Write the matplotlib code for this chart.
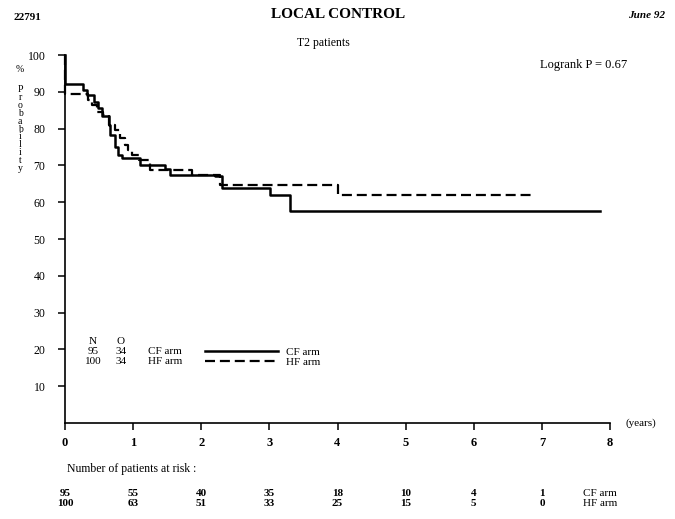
import numpy as np
import matplotlib.pyplot as plt
import matplotlib.transforms as mtransforms

plt.rcParams['font.family'] = ['Liberation Serif', 'DejaVu Serif']

# Kaplan-Meier step curves (years, % probability)
cf_t = [0, 0, 0.27, 0.32, 0.42, 0.49, 0.54, 0.64, 0.66, 0.74, 0.78, 0.83,
        1.00, 1.10, 1.47, 1.54, 2.20, 2.30, 3.01, 3.30, 7.85]
cf_s = [100, 92.2, 90.5, 89.2, 87.3, 85.6, 83.3, 81.0, 78.3, 75.1, 72.9, 72.0,
        72.0, 70.2, 68.9, 67.3, 67.0, 63.8, 62.0, 57.6, 57.6]

hf_t = [0, 0, 0.34, 0.39, 0.47, 0.56, 0.64, 0.74, 0.81, 0.88, 0.93, 0.98,
        1.08, 1.25, 1.86, 2.28, 4.01, 6.88]
hf_s = [100, 89.4, 87.8, 86.4, 84.6, 83.7, 81.0, 79.7, 77.4, 75.6, 74.3, 72.9,
        71.5, 68.8, 67.5, 64.7, 62.0, 62.0]

years = [0, 1, 2, 3, 4, 5, 6, 7, 8]
y_ticks = [10, 20, 30, 40, 50, 60, 70, 80, 90, 100]
risk_cf = [95, 55, 40, 35, 18, 10, 4, 1]
risk_hf = [100, 63, 51, 33, 25, 15, 5, 0]
arm_n = [95, 100]
arm_o = [34, 34]
arm_names = ['CF arm', 'HF arm']

W, H = 675, 519
def fx(px):
    return px / W
def fy(py):
    return 1 - py / H

fig = plt.figure(figsize=(6.75, 5.19), dpi=100)
ax = fig.add_axes((fx(65), fy(423), 545 / W, 368 / H))

ax.plot(cf_t, cf_s, drawstyle='steps-post', color='black', lw=1.8,
        clip_on=False, label='CF arm')
ax.plot(hf_t, hf_s, drawstyle='steps-post', color='black', lw=1.6,
        dashes=(4.5, 2.2), clip_on=False, label='HF arm')

ax.set_xlim(0, 8)
ax.set_ylim(0, 100)
ax.spines['top'].set_visible(False)
ax.spines['right'].set_visible(False)
ax.spines['left'].set_linewidth(1.2)
ax.spines['bottom'].set_linewidth(1.2)
ax.set_xticks(years)
ax.set_xticklabels([str(v) for v in years], fontweight='bold', fontsize=9)
ax.set_yticks(y_ticks)
ax.set_yticklabels([str(v) for v in y_ticks], fontsize=8.5)
ax.tick_params(axis='both', direction='out', length=5, width=1.1)
ax.tick_params(axis='x', pad=5)
ax.tick_params(axis='y', pad=9)

# header texts
fig.text(fx(14), fy(18), '22791', fontsize=8, fontweight='bold', va='center')
fig.text(fx(338), fy(15), 'LOCAL CONTROL', fontsize=11, fontweight='bold',
         ha='center', va='center')
fig.text(fx(665), fy(15), 'June 92', fontsize=8, fontweight='bold',
         fontstyle='italic', ha='right', va='center')
fig.text(fx(297), fy(43), 'T2 patients', fontsize=8.5, va='center')
fig.text(fx(540), fy(65), 'Logrank P = 0.67', fontsize=9, va='center')

# stacked y label
fig.text(fx(20), fy(70), '%', fontsize=7, ha='center', va='center')
for i, ch in enumerate('Probability'):
    fig.text(fx(20), fy(90 + i * 7.8), ch, fontsize=7,
             ha='center', va='center')

fig.text(fx(625), fy(423), '(years)', fontsize=8, va='center')

# N / O legend block
fig.text(fx(93), fy(342), 'N', fontsize=8, ha='center', va='center')
fig.text(fx(121), fy(342), 'O', fontsize=8, ha='center', va='center')
for k in range(2):
    yy = fy(352 + 10 * k)
    fig.text(fx(93), yy, str(arm_n[k]), fontsize=8, ha='center', va='center')
    fig.text(fx(121), yy, str(arm_o[k]), fontsize=8, ha='center', va='center')
    fig.text(fx(148), yy, arm_names[k], fontsize=8, va='center')
ax.legend(loc='upper left', bbox_to_anchor=(fx(205), fy(347)),
          bbox_transform=fig.transFigure, frameon=False, fontsize=8,
          handlelength=6.6, handletextpad=0.7, labelspacing=0.0,
          borderpad=0, borderaxespad=0)

# number at risk table
tr = mtransforms.blended_transform_factory(ax.transData, fig.transFigure)
fig.text(fx(67), fy(469), 'Number of patients at risk :', fontsize=8.5,
         va='center')
for i, (a, b) in enumerate(zip(risk_cf, risk_hf)):
    ax.text(years[i], fy(493), str(a), transform=tr, ha='center',
            va='center', fontsize=8, fontweight='bold')
    ax.text(years[i], fy(504), str(b), transform=tr, ha='center',
            va='center', fontsize=8, fontweight='bold')
fig.text(fx(583), fy(493), 'CF arm', va='center', fontsize=8)
fig.text(fx(583), fy(504), 'HF arm', va='center', fontsize=8)

fig.savefig('out.png', dpi=100)
